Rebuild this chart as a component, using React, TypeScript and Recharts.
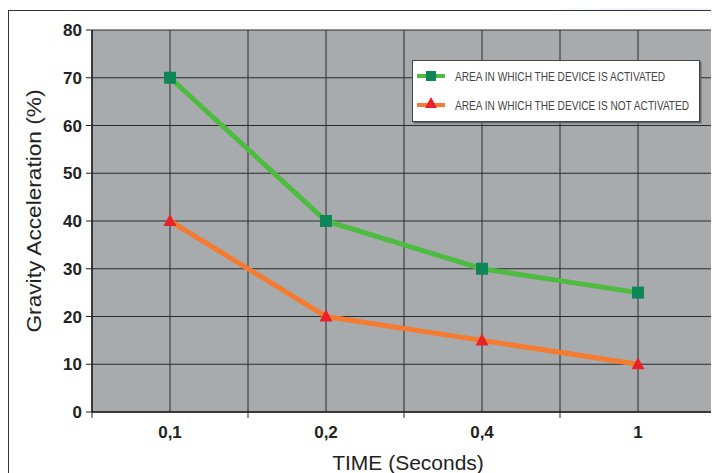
import { CartesianGrid, Legend, Line, LineChart, XAxis, YAxis } from "recharts";

const categories = ["0,1", "0,2", "0,4", "1"];
const activated = [70, 40, 30, 25];
const notActivated = [40, 20, 15, 10];
const yTicks = [0, 10, 20, 30, 40, 50, 60, 70, 80];
const xTicks = [0, 0.5, 1, 1.5, 2, 2.5, 3, 3.5, 4];

const GREEN = "#4dbb3f";
const GREEN_DOT = "#0d8757";
const ORANGE = "#f47b30";
const RED = "#ea2127";
const FONT = "Arial, 'Liberation Sans', Helvetica, sans-serif";

const data = categories.map((name, i) => ({
  x: i + 0.5,
  name,
  activated: activated[i],
  notActivated: notActivated[i],
}));

function Square(props: any) {
  const { cx, cy } = props;
  if (cx == null || cy == null) return null;
  return <rect x={cx - 6} y={cy - 6} width={12} height={12} fill={GREEN_DOT} />;
}

function Triangle(props: any) {
  const { cx, cy } = props;
  if (cx == null || cy == null) return null;
  return (
    <polygon
      points={`${cx},${cy - 7} ${cx + 6.5},${cy + 5} ${cx - 6.5},${cy + 5}`}
      fill={RED}
    />
  );
}

function XTick(props: any) {
  const { x, y, payload } = props;
  const v = payload.value as number;
  if (Number.isInteger(v)) {
    return <line x1={x} x2={x} y1={y} y2={y + 6} stroke="#222" strokeWidth={1} />;
  }
  return (
    <text
      x={x}
      y={y + 26}
      textAnchor="middle"
      fontFamily={FONT}
      fontWeight="bold"
      fontSize={17}
      fill="#222"
    >
      {categories[Math.floor(v)]}
    </text>
  );
}

function XLabel(props: any) {
  const { viewBox } = props;
  if (!viewBox) return null;
  const cx = viewBox.x + viewBox.width / 2 + 4;
  return (
    <text
      x={cx}
      y={viewBox.y + 58}
      textAnchor="middle"
      fontFamily={FONT}
      fontSize={21}
      fill="#222"
    >
      TIME (Seconds)
    </text>
  );
}

function YLabel(props: any) {
  const { viewBox } = props;
  if (!viewBox) return null;
  const cx = 25;
  const cy = viewBox.y + viewBox.height / 2 - 10;
  return (
    <text
      x={cx}
      y={cy}
      transform={`rotate(-90 ${cx} ${cy})`}
      textAnchor="middle"
      dominantBaseline="central"
      fontFamily={FONT}
      fontSize={21}
      fill="#222"
      textLength={243}
      lengthAdjust="spacingAndGlyphs"
    >
      Gravity Acceleration (%)
    </text>
  );
}

function LegendBox() {
  const textStyle = {
    fontFamily: FONT,
    fontSize: 12.5,
    fill: "#444",
  };
  return (
    <svg width={290} height={64} style={{ display: "block" }}>
      <rect x={1.5} y={1.5} width={288} height={62} fill="#666" />
      <rect x={0.5} y={0.5} width={287} height={61} fill="#fff" stroke="#444" />
      <line x1={5} x2={33} y1={16} y2={16} stroke={GREEN} strokeWidth={4} />
      <rect x={14} y={11} width={10} height={10} fill={GREEN_DOT} />
      <g transform="translate(43 20.5) scale(0.81 1)">
        <text x={0} y={0} style={textStyle}>
          AREA IN WHICH THE DEVICE IS ACTIVATED
        </text>
      </g>
      <line x1={5} x2={33} y1={45} y2={45} stroke={ORANGE} strokeWidth={4} />
      <polygon points="19,37 25,48 13,48" fill={RED} />
      <g transform="translate(43 49.5) scale(0.81 1)">
        <text x={0} y={0} style={textStyle}>
          AREA IN WHICH THE DEVICE IS NOT ACTIVATED
        </text>
      </g>
    </svg>
  );
}

export default function App() {
  return (
    <div style={{ position: "relative", width: 711, height: 465 }}>
      <div
        style={{
          position: "absolute",
          left: -8,
          top: -8,
          width: 719,
          height: 10,
          background:
            "linear-gradient(90deg, #fff 0%, #fff 75%, #e4f1fb 92%, #f4f9fd 100%)",
        }}
      />
      <div
        style={{
          position: "absolute",
          left: 0,
          top: 2,
          width: 720,
          height: 470,
          border: "1.5px solid #333",
          borderRight: "none",
          borderBottom: "none",
        }}
      />
      <LineChart
        width={711}
        height={465}
        data={data}
        margin={{ top: 22, right: 3, bottom: 0, left: 24 }}
        style={{ position: "absolute", left: 0, top: 0 }}
      >
        <CartesianGrid
          fill="#a7abae"
          fillOpacity={1}
          stroke="#2a2a2a"
          strokeWidth={1}
          horizontalValues={yTicks}
          verticalValues={xTicks}
        />
        <XAxis
          dataKey="x"
          type="number"
          domain={[0, 4]}
          ticks={xTicks}
          interval={0}
          tick={<XTick />}
          tickLine={false}
          tickSize={0}
          tickMargin={0}
          axisLine={{ stroke: "#222", strokeWidth: 1.5 }}
          height={61}
          label={<XLabel />}
        />
        <YAxis
          type="number"
          domain={[0, 80]}
          ticks={yTicks}
          interval={0}
          width={60}
          tickSize={6}
          tickMargin={4}
          tickLine={{ stroke: "#222" }}
          axisLine={{ stroke: "#222", strokeWidth: 1.5 }}
          tick={{ fontFamily: FONT, fontWeight: "bold", fontSize: 17, fill: "#222" }}
          label={<YLabel />}
        />
        <Legend
          layout="horizontal"
          align="center"
          verticalAlign="middle"
          content={() => <LegendBox />}
          wrapperStyle={{ position: "absolute", left: 404, top: 52, width: 290, height: 64 }}
        />
        <Line
          dataKey="activated"
          name="AREA IN WHICH THE DEVICE IS ACTIVATED"
          type="linear"
          stroke={GREEN}
          strokeWidth={5}
          dot={<Square />}
          activeDot={false}
          isAnimationActive={false}
        />
        <Line
          dataKey="notActivated"
          name="AREA IN WHICH THE DEVICE IS NOT ACTIVATED"
          type="linear"
          stroke={ORANGE}
          strokeWidth={5}
          dot={<Triangle />}
          activeDot={false}
          isAnimationActive={false}
        />
      </LineChart>
    </div>
  );
}
